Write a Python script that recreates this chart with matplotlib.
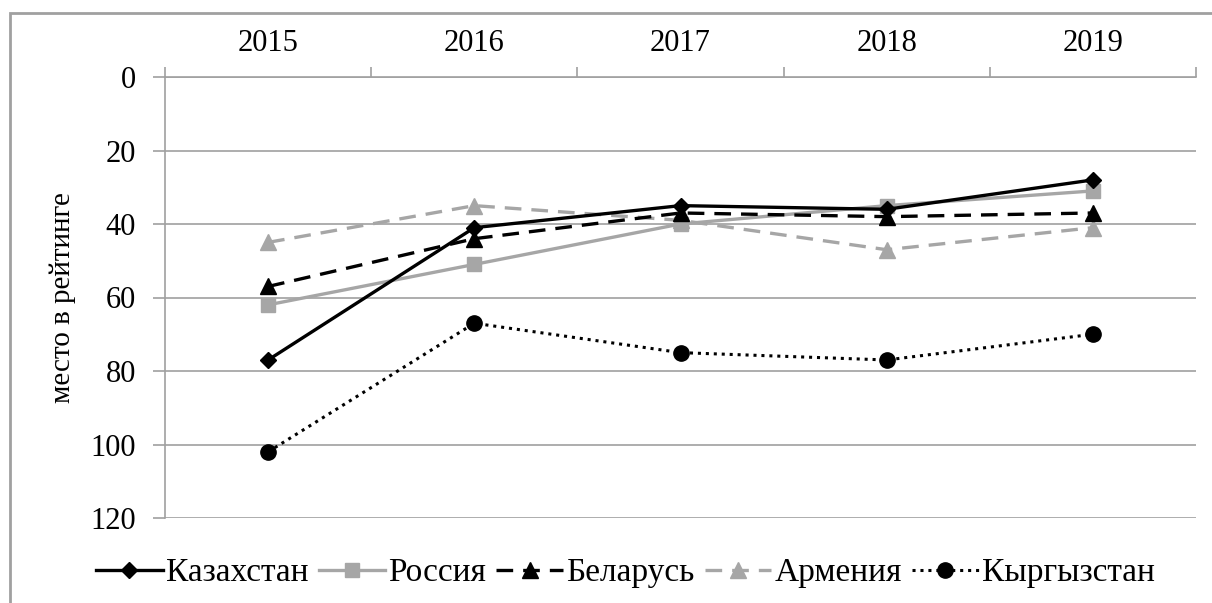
import matplotlib
matplotlib.use("Agg")
import matplotlib.pyplot as plt
from matplotlib.patches import Rectangle

plt.rcParams['font.family'] = ['Liberation Serif', 'DejaVu Serif']

# data
years = ['2015', '2016', '2017', '2018', '2019']
kazakhstan = [77, 41, 35, 36, 28]
russia = [62, 51, 40, 35, 31]
belarus = [57, 44, 37, 38, 37]
armenia = [45, 35, 39, 47, 41]
kyrgyzstan = [102, 67, 75, 77, 70]

grey = '#a6a6a6'
axis_grey = '#a0a0a0'

fig = plt.figure(figsize=(12.12, 6.03), dpi=100)
ax = fig.add_axes([165/1212, 1-518/603, 1031/1212, 441/603])

x = range(len(years))
ax.plot(x, kazakhstan, color='black', lw=2.4, marker='D', ms=8, label='Казахстан', zorder=5)
ax.plot(x, russia, color=grey, lw=2.4, marker='s', ms=10, label='Россия', zorder=4)
ax.plot(x, belarus, color='black', lw=2.4, ls=(0, (5, 3)), marker='^', ms=11, label='Беларусь', zorder=4)
ax.plot(x, armenia, color=grey, lw=2.4, ls=(0, (5, 3)), marker='^', ms=11, label='Армения', zorder=3)
ax.plot(x, kyrgyzstan, color='black', lw=2.2, ls=(0, (1, 1.6)), marker='o', ms=11, label='Кыргызстан', zorder=4)

# axes
ax.set_xlim(-0.5, 4.5)
ax.set_ylim(120, 0)
ax.set_yticks([0, 20, 40, 60, 80, 100, 120])
ax.yaxis.grid(True, color=axis_grey, lw=1.2)
ax.set_axisbelow(True)
ax.xaxis.tick_top()
ax.set_xticks(list(x))
ax.set_xticklabels(years)
ax.set_xticks([-0.5, 0.5, 1.5, 2.5, 3.5, 4.5], minor=True)
ax.tick_params(axis='x', which='major', length=0, pad=14, labelsize=22)
ax.tick_params(axis='x', which='minor', length=7, color=axis_grey, width=1.2, direction='out')
ax.tick_params(axis='y', length=9, color=axis_grey, width=1.2, labelsize=22, pad=12)
for s in ['right', 'bottom']:
    ax.spines[s].set_visible(False)
for s in ['left', 'top']:
    ax.spines[s].set_color(axis_grey)
    ax.spines[s].set_linewidth(1.2)
ax.set_ylabel('место в рейтинге', fontsize=21, labelpad=10)

ax.legend(loc='center', bbox_to_anchor=(0.5 - 55/1031, (518-573)/441), ncol=5, frameon=False,
          fontsize=24, handlelength=2.0, handletextpad=0.1, columnspacing=0.3, borderaxespad=0)

# outer frame
fig.add_artist(Rectangle((10/1212, -0.1), 1.2, 1.1 - 13/603, transform=fig.transFigure,
                         fill=False, edgecolor=axis_grey, lw=2))

fig.savefig('out.png', dpi=100)
